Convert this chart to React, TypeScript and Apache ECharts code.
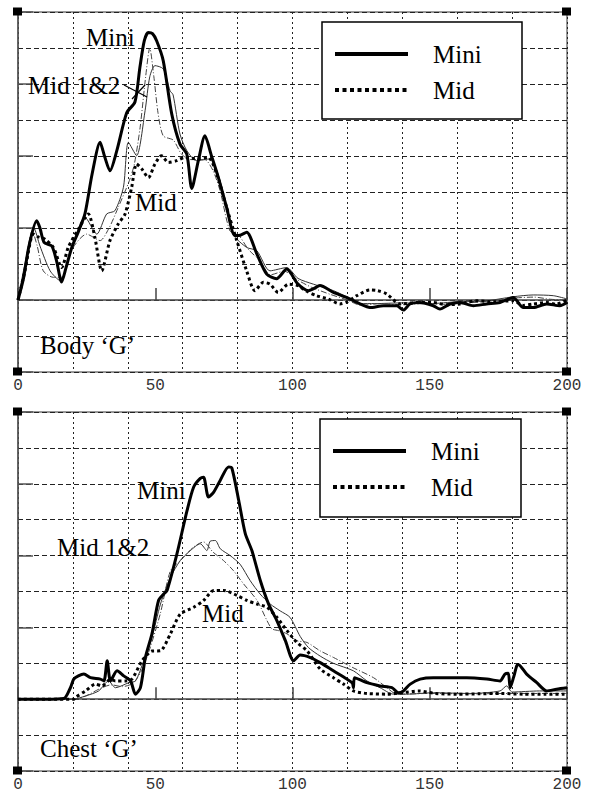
import React, { useEffect, useRef } from "react";
import * as echarts from "echarts";

// ---- Data (time in ms on x, acceleration on y; one grid division = 10) ----
const xTicks = [0, 50, 100, 150, 200];

const bodyMini: [number, number][] = [
  [0, 0], [2, 6], [4, 15], [6.8, 22], [8, 20], [9.5, 16], [12.3, 15], [14, 11], [15.9, 5], [17.5, 9],
  [19.6, 14.6], [22, 19], [24.4, 24], [27, 35], [29.9, 43.8], [31.5, 40], [33.5, 35.9], [36, 41.5],
  [39.6, 52], [42.6, 55], [44.4, 64.6], [46, 72], [47.5, 74.3], [49, 74], [50.5, 72], [52.9, 66.5],
  [56, 51.7], [59, 43.3], [61.5, 40.5], [63.3, 31], [65.7, 38.7], [68.1, 45.6], [70.5, 40], [73, 34],
  [76, 25.7], [79, 17.9], [81, 18], [83.3, 18.8], [87, 12.8], [90.6, 7.2], [94.2, 5.9], [97.9, 8.6],
  [102, 4.4], [105.8, 2.6], [107.6, 3.1], [110, 4], [114.9, 2.1], [119.7, 0.7], [124.6, -1.1],
  [128.2, -2.1], [133.1, -1.6], [138, -1.6], [140.4, -2.8], [142.8, -1.1], [146.4, -0.7], [151.3, -1.6],
  [153.7, -2.5], [157.4, -1.1], [161, -0.7], [165.9, -1.6], [170.7, -1.1], [175.6, -0.7], [180.4, 0.7],
  [184.1, -2.1], [187.7, -2.1], [192.6, -1.1], [197.4, -1.6], [200, -0.7],
];
const bodyMid: [number, number][] = [
  [0, 0], [2.5, 8], [5.6, 18.3], [7.5, 17.5], [9.8, 16.9], [12.9, 14.6], [15.9, 9], [18.3, 14.6],
  [22, 19.7], [25.6, 23.9], [28, 17.4], [30.5, 8.1], [33.5, 16.5], [36.5, 21.1], [39, 23.9],
  [41.4, 31.3], [43.2, 37.8], [45.1, 36.4], [47.5, 34], [49.9, 37.8], [52.3, 40.1], [54.8, 38.2],
  [57.8, 38.7], [60.8, 39.6], [65.1, 39.2], [69.3, 39.6], [72.4, 35], [76, 25.7], [79.7, 16.5],
  [83.3, 8.1], [86.3, 2.6], [89.4, 4.9], [91.8, 4.4], [94.8, 2.1], [98.5, 4.4], [102, 4], [105, 2.5],
  [108.8, 1.2], [113, 0.3], [117.3, -1.1], [120, -0.5], [123.4, 1.2], [128.2, 2.8], [131, 2.6],
  [134.3, 1.7], [139.2, -1.1], [145.2, -0.7], [151.3, -0.7], [156, -1.3], [161, -1.1], [167.1, -0.2],
  [173.2, -0.5], [180.4, -0.2], [184, -1.5], [187.7, -1.1], [192.6, -0.7], [196, -1.2], [200, 0],
];
const bodyMid1: [number, number][] = [
  [0, 0], [2.5, 10], [5.8, 20], [8, 15], [11.7, 8.1], [15.3, 5.4], [19.6, 14.6], [24.4, 23],
  [28.7, 18.3], [32.3, 23.9], [35.3, 24.8], [38.4, 31.3], [40.2, 43.8], [43.2, 40.1], [46.3, 52.6],
  [48, 62], [49.9, 65.1], [52.9, 64.2], [55.4, 58.1], [56.5, 57], [59, 46.1], [61.5, 41.5], [65.1, 38.7],
  [69.9, 39.2], [73.6, 33.1], [78.4, 18.3], [83.3, 14.6], [87, 13.7], [91.8, 8.1], [97.9, 9], [102, 6],
  [107.6, 4.4], [114.9, 2.6], [119.7, 0.9], [124.6, -1], [130, -1], [140, -0.8], [150, -1], [160, -0.5],
  [170, -0.3], [180.4, 0.9], [187.7, 1.4], [195, 1.2], [200, 0.3],
];
const bodyMid2: [number, number][] = [
  [0, 0], [2.5, 9], [5.2, 19.2], [7, 15], [9.2, 8.1], [12.9, 6.3], [15.9, 6.3], [19.6, 14], [25, 18.3],
  [29.9, 16.5], [33.3, 20.2], [36.5, 25.7], [40.6, 33.2], [42.4, 37.8], [44.5, 48], [46.5, 62], [48, 70],
  [49.5, 62], [51, 52], [52.9, 45.6], [56.6, 44.4], [59.6, 40.5], [63, 39], [68, 39], [71, 36],
  [73.6, 30.4], [77.2, 19.2], [80.1, 18.3], [84, 14], [88, 11], [92, 7], [97, 8], [102, 5.5], [107, 3.5],
  [114, 1.5], [120, 0], [125, -1.5], [132, -1], [140, -1.3], [148, -1], [156, -1.2], [164, -0.8],
  [172, -0.3], [180, 0.5], [188, 0.8], [194, 0.2], [200, 0],
];

const chestMini: [number, number][] = [
  [0, 0], [10, 0], [16.7, 0.2], [19.1, 3.2], [20.3, 5.6], [22, 6.5], [24, 7], [26.4, 6], [30, 5.6],
  [31.3, 5.1], [32.5, 10.7], [33.7, 5.1], [36.1, 7.9], [38.5, 6.5], [41, 5.1], [42.8, 1.4], [44.6, 3.2],
  [46.4, 11.6], [48.8, 18.2], [51.2, 27.5], [53.1, 29.3], [54.3, 30.3], [57.9, 40.5], [61.6, 52.6],
  [64, 59.1], [66.4, 61.5], [67.6, 61.8], [69.4, 56.3], [71.3, 57.7], [73.7, 61], [76.7, 64.7],
  [77.9, 64.4], [80.4, 55.4], [82.8, 46.1], [85.2, 41.4], [88.3, 33], [91.3, 26.5], [94.3, 21.9],
  [97.4, 16.3], [100.4, 10.7], [102.8, 12.3], [106.5, 11.6], [110.1, 10.2], [114.9, 7.9], [119.8, 5.6],
  [121.8, 4.5], [122.2, 3.2], [122.6, 6], [127.1, 4.6], [131.9, 3.7], [136.2, 3.2], [138.6, 1.8],
  [140.4, 2.3], [142.9, 4.2], [146.5, 5.6], [151.3, 6], [163.5, 6], [170.8, 5.6], [175.6, 5.1],
  [177.4, 7], [178.6, 7.2], [179.3, 3.2], [180.5, 6], [181.7, 9.3], [182.2, 9.7], [185.3, 7], [189, 4.6],
  [192.6, 2.3], [196.2, 2.8], [200, 3.2],
];
const chestMid: [number, number][] = [
  [0, 0], [20.3, 0], [20.9, 0.5], [24.6, 2.3], [28.2, 4.2], [30.6, 3.7], [33.7, 5.5], [35.5, 5.1],
  [39.1, 5.1], [41.5, 5.6], [45.2, 10.7], [48.8, 13.4], [51.9, 13.5], [55.5, 18.2], [59.1, 23.7],
  [64, 25.6], [67.6, 27.5], [71.3, 30.3], [74.9, 30.3], [79.8, 28.9], [83.4, 27.5], [87.1, 26.5],
  [90.7, 25.6], [94.3, 22.8], [98, 19.1], [101.6, 15.8], [105.3, 13.5], [110.1, 8.4], [114.9, 6],
  [118.6, 4.2], [122.2, 2.3], [127.1, 1.6], [134.4, 1.4], [140, 1.8], [146, 2.3], [152, 1.6], [160, 1.4],
  [168, 1.5], [176, 1.6], [184, 1.4], [192, 1.4], [200, 1.4],
];
const chestMid1: [number, number][] = [
  [0, 0], [20, 0], [24.6, 0.9], [29.4, 2.3], [33, 5.1], [35.5, 3.2], [40.4, 4.6], [42.8, 5.1],
  [45.8, 10.7], [48.8, 17.2], [51.9, 26.5], [55.5, 33.9], [59.1, 38.6], [62.8, 41.4], [66.4, 43.3],
  [68.8, 41.4], [70, 44], [71.9, 44.2], [73.7, 41.9], [77.3, 40], [80.9, 37.6], [84.6, 33], [88.2, 29.3],
  [91.9, 26.5], [95.5, 24.6], [99.1, 22.8], [102.8, 17.5], [105.8, 14.4], [110.1, 12], [114.9, 10],
  [122.2, 7.9], [127.1, 5.1], [131.9, 3.2], [136.8, 1.4], [141.6, 1.4], [151.3, 1.8], [165, 1.6],
  [175.6, 2.3], [178, 3.7], [180, 2], [190, 2.3], [200, 2.3],
];
const chestMid2: [number, number][] = [
  [0, 0], [21, 0], [25, 1], [30, 3], [34, 4], [38, 3.5], [42, 4.5], [45, 8], [48, 14], [51.9, 24],
  [55.5, 35.7], [59.1, 38.6], [64, 42.4], [67.6, 43.8], [71, 41], [74.9, 38.6], [78.5, 35.8],
  [82.2, 32.1], [87.1, 27.5], [90.7, 21.9], [92.5, 19.6], [94.9, 19.1], [98, 18.2], [101.6, 16.3],
  [105.3, 15.8], [110, 13.5], [115, 11.6], [122, 8.8], [129.5, 6], [134.4, 3.2], [138, 1.4], [150, 1.6],
  [165, 1.5], [180, 1.6], [190, 1.6], [200, 1.6],
];

const SERIF = "'Liberation Serif', 'Times New Roman', serif";
const MONO = "'Liberation Mono', 'DejaVu Sans Mono', monospace";

const grids = [
  { left: 18, top: 12, width: 549, height: 360 },
  { left: 18, top: 412, width: 549, height: 359 },
];

function buildAxes() {
  const xAxis: any[] = [];
  const yAxis: any[] = [];
  grids.forEach((_, gi) => {
    xAxis.push({
      type: "value", gridIndex: gi, min: 0, max: 200, interval: 20,
      axisLine: { show: true, lineStyle: { color: "#444", width: 1.5 } },
      axisTick: { show: false }, axisLabel: { show: false },
      splitLine: { show: true, lineStyle: { color: "#222", width: 1, type: [2, 3] } },
    });
    xAxis.push({
      type: "value", gridIndex: gi, min: 0, max: 200, interval: 50, position: "bottom",
      axisLine: { show: false },
      axisTick: { show: true, inside: true, length: 12, lineStyle: { color: "#444", width: 1.5 } },
      axisLabel: {
        show: true, margin: 6, fontFamily: MONO, fontSize: 16, color: "#333",
        formatter: (v: number) => (xTicks.includes(v) ? String(v) : ""),
      },
      splitLine: { show: false },
    });
    yAxis.push({
      type: "value", gridIndex: gi, min: -20, max: 80, interval: 10,
      axisLine: { show: true, lineStyle: { color: "#555", width: 1.5 } },
      axisTick: { show: false }, axisLabel: { show: false },
      splitLine: { show: true, lineStyle: { color: "#222", width: 1, type: [5, 3] } },
    });
    yAxis.push({
      type: "value", gridIndex: gi, min: -20, max: 80, interval: 20, position: "left",
      axisLine: { show: false },
      axisTick: { show: true, inside: true, length: 15, lineStyle: { color: "#555", width: 1.5 } },
      axisLabel: { show: false }, splitLine: { show: false },
    });
  });
  return { xAxis, yAxis };
}

function lineSeries(data: [number, number][], gi: number, kind: "mini" | "mid" | "mid1" | "mid2") {
  const styles: Record<string, any> = {
    mini: { color: "#000", width: 3, type: "solid" },
    mid: { color: "#000", width: 3, type: [3, 3] },
    mid1: { color: "#333", width: 1, type: "solid" },
    mid2: { color: "#444", width: 1, type: [6, 2, 1, 2] },
  };
  return {
    type: "line", xAxisIndex: gi * 2, yAxisIndex: gi * 2, data,
    showSymbol: false, smooth: 0.25, silent: true,
    lineStyle: styles[kind],
    z: kind === "mini" ? 5 : kind === "mid" ? 4 : 3,
  };
}

function text(x: number, y: number, t: string, size = 25) {
  return {
    type: "text", x, y, z: 100,
    style: { text: t, fontFamily: SERIF, fontSize: size, fill: "#000", textVerticalAlign: "middle" },
  };
}

function legend(x: number, y: number, w: number, h: number) {
  const y1 = y + 32, y2 = y + 68;
  return [
    { type: "rect", z: 100, shape: { x, y, width: w, height: h }, style: { fill: "#fff", stroke: "#000", lineWidth: 1.5 } },
    { type: "line", z: 101, shape: { x1: x + 13, y1, x2: x + 86, y2: y1 }, style: { stroke: "#000", lineWidth: 4 } },
    { type: "line", z: 101, shape: { x1: x + 13, y1: y2, x2: x + 86, y2 }, style: { stroke: "#000", lineWidth: 4, lineDash: [4, 3.5] } },
    { ...text(x + 111, y1, "Mini", 25), z: 101 },
    { ...text(x + 111, y2, "Mid", 25), z: 101 },
  ];
}

function corners(g: { left: number; top: number; width: number; height: number }) {
  const pts = [
    [g.left, g.top], [g.left + g.width, g.top],
    [g.left, g.top + g.height], [g.left + g.width, g.top + g.height],
  ];
  return pts.map(([cx, cy]) => ({
    type: "rect", z: 100, shape: { x: cx - 5, y: cy - 4.5, width: 9, height: 8 }, style: { fill: "#000" },
  }));
}

export default function App() {
  const ref = useRef<HTMLDivElement>(null);
  useEffect(() => {
    if (!ref.current) return;
    const chart = echarts.init(ref.current, null, { renderer: "svg" });
    const { xAxis, yAxis } = buildAxes();
    chart.setOption({
      animation: false,
      backgroundColor: "#fff",
      grid: grids.map((g) => ({ ...g, show: true, borderColor: "#333", borderWidth: 1, backgroundColor: "transparent" })),
      xAxis, yAxis,
      series: [
        lineSeries(bodyMid1, 0, "mid1"), lineSeries(bodyMid2, 0, "mid2"),
        lineSeries(bodyMid, 0, "mid"), lineSeries(bodyMini, 0, "mini"),
        lineSeries(chestMid1, 1, "mid1"), lineSeries(chestMid2, 1, "mid2"),
        lineSeries(chestMid, 1, "mid"), lineSeries(chestMini, 1, "mini"),
      ],
      graphic: [
        text(86, 37, "Mini"), text(28, 85, "Mid 1&2"), text(135, 202, "Mid"), text(40, 345, "Body ‘G’"),
        { type: "line", z: 100, shape: { x1: 124, y1: 85, x2: 147, y2: 97 }, style: { stroke: "#000", lineWidth: 1.2 } },
        { type: "line", z: 100, shape: { x1: 132, y1: 99, x2: 145, y2: 85 }, style: { stroke: "#000", lineWidth: 1.2 } },
        text(137, 490, "Mini"), text(57, 547, "Mid 1&2"), text(202, 613, "Mid"), text(40, 748, "Chest ‘G’"),
        ...legend(322, 22, 200, 97),
        ...legend(320, 419, 201, 98),
        ...corners(grids[0]), ...corners(grids[1]),
      ],
    });
    return () => chart.dispose();
  }, []);
  return <div ref={ref} style={{ position: "absolute", left: 0, top: 0, width: 589, height: 793 }} />;
}
